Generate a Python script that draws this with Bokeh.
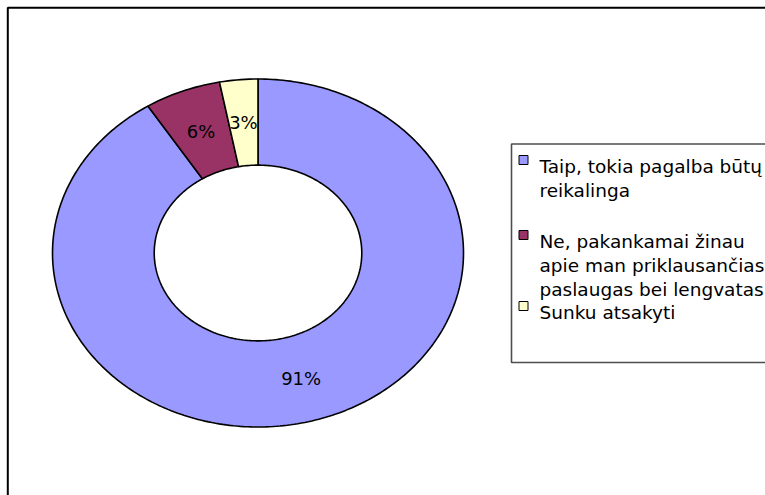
import numpy as np
from bokeh.plotting import figure
from bokeh.models import Range1d, BoxAnnotation, ColumnDataSource
from bokeh.core.properties import value
from bokeh.embed import file_html
from bokeh.resources import INLINE

# ---- data ----
categories = [
    "Taip, tokia pagalba būtų reikalinga",
    "Ne, pakankamai žinau apie man priklausančias paslaugas bei lengvatas",
    "Sunku atsakyti",
]
values = [91, 6, 3]
labels = ["91%", "6%", "3%"]
colors = ["#9999FF", "#993366", "#FFFFCC"]
legend_lines = [
    ["Taip, tokia pagalba būtų", "reikalinga"],
    ["Ne, pakankamai žinau", "apie man priklausančias", "paslaugas bei lengvatas"],
    ["Sunku atsakyti"],
]

# ---- layout (screen pixels -> data units, 1:1) ----
W, H = 765, 495


def X(px):
    return px


def Y(py):
    return H - py


FONT = value("DejaVu Sans")

p = figure(
    width=W, height=H,
    x_range=Range1d(0, W), y_range=Range1d(0, H),
    output_backend="svg", toolbar_location=None,
    x_axis_location=None, y_axis_location=None,
    min_border=0, outline_line_color=None,
    background_fill_color="white", border_fill_color="white",
)
p.grid.visible = False

# donut geometry (elliptical, as in the reference)
cx, cy = X(257.5), Y(252.5)
rx, ry = 205.5, 174.0
inner = 0.505

fr = np.array(values, dtype=float) / sum(values)
cum = np.concatenate([[0.0], np.cumsum(fr)]) * 2 * np.pi  # clockwise from top

xs, ys, lx, ly = [], [], [], []
for i in range(len(values)):
    t0, t1 = cum[i], cum[i + 1]
    n = max(int((t1 - t0) / (2 * np.pi) * 360), 4)
    t = np.linspace(t0, t1, n)
    ox = cx + rx * np.sin(t)
    oy = cy + ry * np.cos(t)
    ix = cx + rx * inner * np.sin(t[::-1])
    iy = cy + ry * inner * np.cos(t[::-1])
    xs.append(np.concatenate([ox, ix]).tolist())
    ys.append(np.concatenate([oy, iy]).tolist())
    tm = (t0 + t1) / 2
    rm = (1 + inner) / 2
    lx.append(cx + rx * rm * np.sin(tm))
    ly.append(cy + ry * rm * np.cos(tm))

p.patches(xs="xs", ys="ys", fill_color="color", line_color="black", line_width=1.6,
          source=ColumnDataSource(dict(xs=xs, ys=ys, color=colors)))

p.text(x=lx, y=ly, text=labels, text_font=FONT, text_font_size="18px",
       text_align="center", text_baseline="middle", text_color="black")

# outer chart border (only left/top visible in the picture)
p.add_layout(BoxAnnotation(left=X(7.3), right=W + 100, top=Y(7.3), bottom=-100,
                           fill_color=None, fill_alpha=0,
                           line_color="black", line_alpha=1.0, line_width=2))

# legend box
p.add_layout(BoxAnnotation(left=X(511), right=W + 100, top=Y(143.5), bottom=Y(362),
                           fill_color=None, fill_alpha=0,
                           line_color="#4d4d4d", line_alpha=1.0, line_width=1.6))

item_baselines = [166, 241, 312]
line_step = 24
sq_x, sq_y = [], []
tx, ty, tt = [], [], []
for i, lines in enumerate(legend_lines):
    b = item_baselines[i]
    sq_x.append(X(523))
    sq_y.append(Y(b - 6.5))
    for j, s in enumerate(lines):
        tx.append(X(539))
        ty.append(Y(b + j * line_step))
        tt.append(s)

p.rect(x=sq_x, y=sq_y, width=9, height=9, fill_color=colors,
       line_color="black", line_width=1)
p.text(x=tx, y=ty, text=tt, text_font=FONT, text_font_size="18.5px",
       text_align="left", text_baseline="alphabetic", text_color="black")

open("out.html", "w").write(file_html(p, INLINE))
